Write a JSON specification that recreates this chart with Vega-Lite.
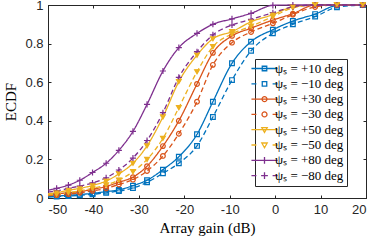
{
  "$schema": "https://vega.github.io/schema/vega-lite/v6.json",
  "width": 318,
  "height": 193,
  "autosize": {"type": "none"},
  "padding": {"left": 48, "top": 5, "right": 8, "bottom": 43},
  "background": "white",
  "config": {
    "font": "Liberation Sans",
    "view": {"stroke": "#262626", "strokeWidth": 1},
    "axis": {
      "grid": false,
      "domainColor": "#262626",
      "tickColor": "#262626",
      "labelColor": "#262626",
      "labelFont": "Liberation Sans",
      "labelFontSize": 13,
      "titleFont": "Liberation Serif",
      "titleFontSize": 15,
      "titleFontWeight": "normal",
      "titleColor": "#000000",
      "tickSize": -3
    },
    "legend": {
      "orient": "none",
      "legendX": 207,
      "legendY": 54,
      "padding": 3,
      "strokeColor": "#262626",
      "fillColor": "white",
      "labelFont": "Liberation Serif",
      "labelFontSize": 13,
      "labelColor": "#000000",
      "rowPadding": 1.3,
      "symbolStrokeWidth": 1.3,
      "symbolSize": 81
    }
  },
  "data": {
    "values": [
      {"x": -50, "y": 0.008, "s": "+10"}, {"x": -48.1, "y": 0.01, "s": "+10"}, {"x": -45.5, "y": 0.014, "s": "+10"}, {"x": -43.0, "y": 0.018, "s": "+10"}, {"x": -40.2, "y": 0.024, "s": "+10"}, {"x": -37.2, "y": 0.033, "s": "+10"}, {"x": -34.4, "y": 0.042, "s": "+10"}, {"x": -31.3, "y": 0.064, "s": "+10"}, {"x": -28.2, "y": 0.092, "s": "+10"}, {"x": -24.7, "y": 0.147, "s": "+10"}, {"x": -21.2, "y": 0.214, "s": "+10"}, {"x": -17.2, "y": 0.33, "s": "+10"}, {"x": -13.7, "y": 0.499, "s": "+10"}, {"x": -9.5, "y": 0.698, "s": "+10"}, {"x": -5.3, "y": 0.81, "s": "+10"}, {"x": -0.5, "y": 0.872, "s": "+10"}, {"x": 3.9, "y": 0.917, "s": "+10"}, {"x": 8.8, "y": 0.953, "s": "+10"}, {"x": 13.6, "y": 0.997, "s": "+10"}, {"x": 19.3, "y": 1, "s": "+10"},
      {"x": -50, "y": 0.005, "s": "−10"}, {"x": -48.1, "y": 0.007, "s": "−10"}, {"x": -45.5, "y": 0.01, "s": "−10"}, {"x": -43.0, "y": 0.014, "s": "−10"}, {"x": -40.2, "y": 0.019, "s": "−10"}, {"x": -37.2, "y": 0.027, "s": "−10"}, {"x": -34.4, "y": 0.036, "s": "−10"}, {"x": -31.3, "y": 0.052, "s": "−10"}, {"x": -28.2, "y": 0.081, "s": "−10"}, {"x": -24.7, "y": 0.128, "s": "−10"}, {"x": -21.2, "y": 0.18, "s": "−10"}, {"x": -17.2, "y": 0.27, "s": "−10"}, {"x": -13.7, "y": 0.42, "s": "−10"}, {"x": -9.5, "y": 0.611, "s": "−10"}, {"x": -5.3, "y": 0.763, "s": "−10"}, {"x": -0.5, "y": 0.853, "s": "−10"}, {"x": 3.9, "y": 0.9, "s": "−10"}, {"x": 8.8, "y": 0.94, "s": "−10"}, {"x": 13.6, "y": 0.988, "s": "−10"}, {"x": 19.3, "y": 1, "s": "−10"},
      {"x": -50, "y": 0.018, "s": "+30"}, {"x": -48.1, "y": 0.022, "s": "+30"}, {"x": -45.5, "y": 0.027, "s": "+30"}, {"x": -43.0, "y": 0.033, "s": "+30"}, {"x": -40.2, "y": 0.045, "s": "+30"}, {"x": -37.2, "y": 0.06, "s": "+30"}, {"x": -34.4, "y": 0.082, "s": "+30"}, {"x": -31.3, "y": 0.108, "s": "+30"}, {"x": -28.2, "y": 0.165, "s": "+30"}, {"x": -24.7, "y": 0.269, "s": "+30"}, {"x": -21.2, "y": 0.4, "s": "+30"}, {"x": -17.2, "y": 0.591, "s": "+30"}, {"x": -13.7, "y": 0.752, "s": "+30"}, {"x": -9.5, "y": 0.84, "s": "+30"}, {"x": -5.3, "y": 0.88, "s": "+30"}, {"x": -0.5, "y": 0.922, "s": "+30"}, {"x": 3.9, "y": 0.955, "s": "+30"}, {"x": 8.8, "y": 1, "s": "+30"}, {"x": 13.6, "y": 1, "s": "+30"}, {"x": 19.3, "y": 1, "s": "+30"},
      {"x": -50, "y": 0.012, "s": "−30"}, {"x": -48.1, "y": 0.015, "s": "−30"}, {"x": -45.5, "y": 0.02, "s": "−30"}, {"x": -43.0, "y": 0.027, "s": "−30"}, {"x": -40.2, "y": 0.037, "s": "−30"}, {"x": -37.2, "y": 0.05, "s": "−30"}, {"x": -34.4, "y": 0.07, "s": "−30"}, {"x": -31.3, "y": 0.095, "s": "−30"}, {"x": -28.2, "y": 0.14, "s": "−30"}, {"x": -24.7, "y": 0.218, "s": "−30"}, {"x": -21.2, "y": 0.333, "s": "−30"}, {"x": -17.2, "y": 0.499, "s": "−30"}, {"x": -13.7, "y": 0.69, "s": "−30"}, {"x": -9.5, "y": 0.805, "s": "−30"}, {"x": -5.3, "y": 0.86, "s": "−30"}, {"x": -0.5, "y": 0.905, "s": "−30"}, {"x": 3.9, "y": 0.95, "s": "−30"}, {"x": 8.8, "y": 0.99, "s": "−30"}, {"x": 13.6, "y": 1, "s": "−30"}, {"x": 19.3, "y": 1, "s": "−30"},
      {"x": -50, "y": 0.022, "s": "+50"}, {"x": -48.1, "y": 0.028, "s": "+50"}, {"x": -45.5, "y": 0.04, "s": "+50"}, {"x": -43.0, "y": 0.05, "s": "+50"}, {"x": -40.2, "y": 0.065, "s": "+50"}, {"x": -37.2, "y": 0.088, "s": "+50"}, {"x": -34.4, "y": 0.125, "s": "+50"}, {"x": -31.3, "y": 0.18, "s": "+50"}, {"x": -28.2, "y": 0.27, "s": "+50"}, {"x": -24.7, "y": 0.42, "s": "+50"}, {"x": -21.2, "y": 0.603, "s": "+50"}, {"x": -17.2, "y": 0.74, "s": "+50"}, {"x": -13.7, "y": 0.825, "s": "+50"}, {"x": -9.5, "y": 0.862, "s": "+50"}, {"x": -5.3, "y": 0.913, "s": "+50"}, {"x": -0.5, "y": 0.95, "s": "+50"}, {"x": 3.9, "y": 0.99, "s": "+50"}, {"x": 8.8, "y": 1, "s": "+50"}, {"x": 13.6, "y": 1, "s": "+50"}, {"x": 19.3, "y": 1, "s": "+50"},
      {"x": -50, "y": 0.016, "s": "−50"}, {"x": -48.1, "y": 0.02, "s": "−50"}, {"x": -45.5, "y": 0.028, "s": "−50"}, {"x": -43.0, "y": 0.037, "s": "−50"}, {"x": -40.2, "y": 0.05, "s": "−50"}, {"x": -37.2, "y": 0.068, "s": "−50"}, {"x": -34.4, "y": 0.093, "s": "−50"}, {"x": -31.3, "y": 0.136, "s": "−50"}, {"x": -28.2, "y": 0.2, "s": "−50"}, {"x": -24.7, "y": 0.309, "s": "−50"}, {"x": -21.2, "y": 0.468, "s": "−50"}, {"x": -17.2, "y": 0.654, "s": "−50"}, {"x": -13.7, "y": 0.784, "s": "−50"}, {"x": -9.5, "y": 0.85, "s": "−50"}, {"x": -5.3, "y": 0.89, "s": "−50"}, {"x": -0.5, "y": 0.94, "s": "−50"}, {"x": 3.9, "y": 0.985, "s": "−50"}, {"x": 8.8, "y": 1, "s": "−50"}, {"x": 13.6, "y": 1, "s": "−50"}, {"x": 19.3, "y": 1, "s": "−50"},
      {"x": -50, "y": 0.04, "s": "+80"}, {"x": -48.1, "y": 0.05, "s": "+80"}, {"x": -45.5, "y": 0.067, "s": "+80"}, {"x": -43.0, "y": 0.092, "s": "+80"}, {"x": -40.2, "y": 0.132, "s": "+80"}, {"x": -37.2, "y": 0.18, "s": "+80"}, {"x": -34.4, "y": 0.247, "s": "+80"}, {"x": -31.3, "y": 0.345, "s": "+80"}, {"x": -28.2, "y": 0.485, "s": "+80"}, {"x": -24.7, "y": 0.658, "s": "+80"}, {"x": -21.2, "y": 0.779, "s": "+80"}, {"x": -17.2, "y": 0.853, "s": "+80"}, {"x": -13.7, "y": 0.9, "s": "+80"}, {"x": -9.5, "y": 0.928, "s": "+80"}, {"x": -5.3, "y": 0.957, "s": "+80"}, {"x": -0.5, "y": 0.998, "s": "+80"}, {"x": 3.9, "y": 1, "s": "+80"}, {"x": 8.8, "y": 1, "s": "+80"}, {"x": 13.6, "y": 1, "s": "+80"}, {"x": 19.3, "y": 1, "s": "+80"},
      {"x": -50, "y": 0.03, "s": "−80"}, {"x": -48.1, "y": 0.037, "s": "−80"}, {"x": -45.5, "y": 0.05, "s": "−80"}, {"x": -43.0, "y": 0.062, "s": "−80"}, {"x": -40.2, "y": 0.078, "s": "−80"}, {"x": -37.2, "y": 0.105, "s": "−80"}, {"x": -34.4, "y": 0.145, "s": "−80"}, {"x": -31.3, "y": 0.207, "s": "−80"}, {"x": -28.2, "y": 0.298, "s": "−80"}, {"x": -24.7, "y": 0.442, "s": "−80"}, {"x": -21.2, "y": 0.625, "s": "−80"}, {"x": -17.2, "y": 0.758, "s": "−80"}, {"x": -13.7, "y": 0.845, "s": "−80"}, {"x": -9.5, "y": 0.896, "s": "−80"}, {"x": -5.3, "y": 0.926, "s": "−80"}, {"x": -0.5, "y": 0.96, "s": "−80"}, {"x": 3.9, "y": 0.99, "s": "−80"}, {"x": 8.8, "y": 1, "s": "−80"}, {"x": 13.6, "y": 1, "s": "−80"}, {"x": 19.3, "y": 1, "s": "−80"}
    ]
  },
  "layer": [
    {
      "mark": {"type": "line", "interpolate": "monotone", "strokeWidth": 1.3},
      "encoding": {
        "x": {"field": "x", "type": "quantitative", "scale": {"domain": [-50, 20], "nice": false},
          "axis": {"values": [-50, -40, -30, -20, -10, 0, 10, 20], "labelExpr": "datum.value + ''", "labelPadding": 8, "title": "Array gain (dB)", "titlePadding": 4}},
        "y": {"field": "y", "type": "quantitative", "scale": {"domain": [0, 1], "nice": false},
          "axis": {"values": [0, 0.2, 0.4, 0.6, 0.8, 1], "labelExpr": "datum.value + ''", "labelPadding": 8, "title": "ECDF", "titlePadding": 6}},
        "color": {"field": "s", "type": "nominal", "legend": null,
          "scale": {"domain": ["+10", "−10", "+30", "−30", "+50", "−50", "+80", "−80"],
            "range": ["#0072BD", "#0072BD", "#D95319", "#D95319", "#EDB120", "#EDB120", "#7E2F8E", "#7E2F8E"]}},
        "strokeDash": {"field": "s", "type": "nominal", "legend": null,
          "scale": {"domain": ["+10", "−10", "+30", "−30", "+50", "−50", "+80", "−80"],
            "range": [[1, 0], [5, 3], [1, 0], [5, 3], [1, 0], [5, 3], [1, 0], [5, 3]]}}
      }
    },
    {
      "transform": [{"filter": "datum.x > -49"}],
      "mark": {"type": "point", "filled": false, "strokeWidth": 1.2, "size": 22, "opacity": 1},
      "encoding": {
        "x": {"field": "x", "type": "quantitative", "axis": null},
        "y": {"field": "y", "type": "quantitative", "axis": null},
        "color": {"field": "s", "type": "nominal", "legend": null,
          "scale": {"domain": ["+10", "−10", "+30", "−30", "+50", "−50", "+80", "−80"],
            "range": ["#0072BD", "#0072BD", "#D95319", "#D95319", "#EDB120", "#EDB120", "#7E2F8E", "#7E2F8E"]}},
        "shape": {"field": "s", "type": "nominal", "legend": null,
          "scale": {"domain": ["+10", "−10", "+30", "−30", "+50", "−50", "+80", "−80"],
            "range": ["square", "square", "circle", "circle", "triangle-down", "triangle-down", "M-1.3,0H1.3M0,-1.3V1.3", "M-1.3,0H1.3M0,-1.3V1.3"]}}
      }
    },
    {
      "transform": [{"filter": "datum.x > -49 && (datum.s == '+50' || datum.s == '−50')"}],
      "mark": {"type": "point", "filled": true, "size": 26, "opacity": 1, "shape": "triangle-down"},
      "encoding": {
        "x": {"field": "x", "type": "quantitative", "axis": null},
        "y": {"field": "y", "type": "quantitative", "axis": null},
        "color": {"field": "s", "type": "nominal", "legend": null,
          "scale": {"domain": ["+10", "−10", "+30", "−30", "+50", "−50", "+80", "−80"],
            "range": ["#0072BD", "#0072BD", "#D95319", "#D95319", "#EDB120", "#EDB120", "#7E2F8E", "#7E2F8E"]}}
      }
    },
    {
      "transform": [{"filter": "false"}],
      "mark": {"type": "point", "filled": false, "size": 81, "strokeWidth": 1.3, "opacity": 1},
      "encoding": {
        "x": {"field": "x", "type": "quantitative",
          "axis": {"orient": "top", "labels": false, "title": null, "values": [-50, -40, -30, -20, -10, 0, 10, 20]}},
        "y": {"field": "y", "type": "quantitative",
          "axis": {"orient": "right", "labels": false, "title": null, "values": [0, 0.2, 0.4, 0.6, 0.8, 1]}},
        "color": {"field": "s", "type": "nominal",
          "scale": {"domain": ["+10", "−10", "+30", "−30", "+50", "−50", "+80", "−80"],
            "range": ["#0072BD", "#0072BD", "#D95319", "#D95319", "#EDB120", "#EDB120", "#7E2F8E", "#7E2F8E"]},
          "legend": {"title": null, "labelExpr": "'ψₛ = ' + datum.label + ' deg'"}},
        "shape": {"field": "s", "type": "nominal",
          "scale": {"domain": ["+10", "−10", "+30", "−30", "+50", "−50", "+80", "−80"],
            "range": [
              "M-2.9,0H2.9M-0.5,-0.5H0.5V0.5H-0.5Z",
              "M-2.9,0H-1.8M1.8,0H2.9M-0.5,-0.5H0.5V0.5H-0.5Z",
              "M-2.9,0H2.9M0.55,0A0.55,0.55,0,1,1,-0.55,0A0.55,0.55,0,1,1,0.55,0Z",
              "M-2.9,0H-1.8M1.8,0H2.9M0.55,0A0.55,0.55,0,1,1,-0.55,0A0.55,0.55,0,1,1,0.55,0Z",
              "M-2.9,0H2.9M-0.6,-0.45H0.6L0,0.6Z",
              "M-2.9,0H-1.8M1.8,0H2.9M-0.6,-0.45H0.6L0,0.6Z",
              "M-2.9,0H2.9M0,-0.75V0.75",
              "M-2.9,0H-1.8M1.8,0H2.9M-0.75,0H0.75M0,-0.75V0.75"
            ]},
          "legend": {"title": null, "labelExpr": "'ψₛ = ' + datum.label + ' deg'"}}
      }
    }
  ],
  "resolve": {
    "scale": {"color": "independent", "shape": "independent"},
    "axis": {"x": "independent", "y": "independent"}
  }
}
